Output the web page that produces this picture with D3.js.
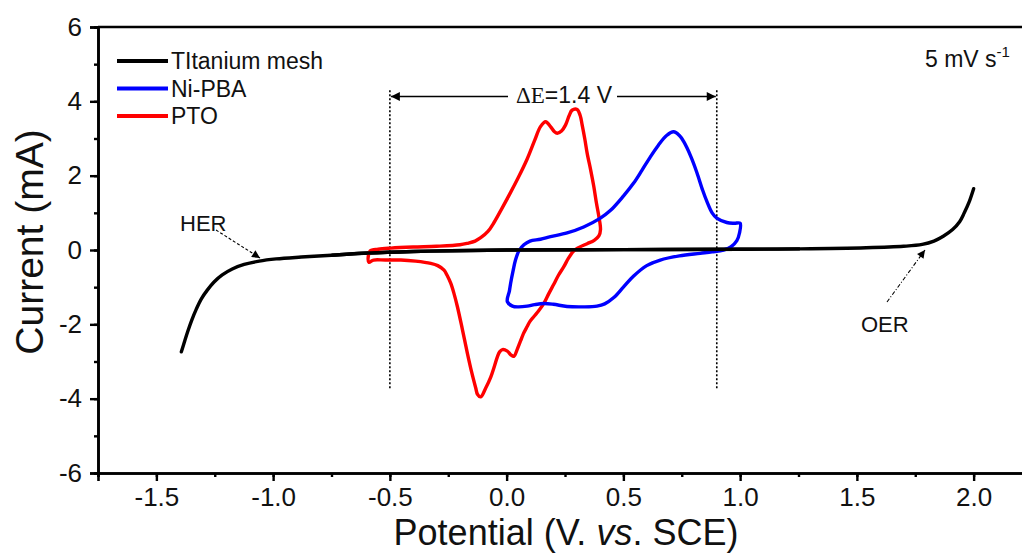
<!DOCTYPE html>
<html>
<head>
<meta charset="utf-8">
<script src="https://cdn.jsdelivr.net/npm/d3@7"></script>
<style>
  html, body { margin: 0; padding: 0; background: #fff; }
  svg text { font-family: "Liberation Sans", Arial, sans-serif; fill: #111; }
</style>
</head>
<body>
<svg id="chart" width="1022" height="554"></svg>
<script>
// Cyclic voltammograms at 5 mV/s: [potential (V vs SCE), current (mA)]
const titaniumMesh = [
  [-1.393, -2.74], [-1.380, -2.475], [-1.365, -2.18], [-1.348, -1.88], [-1.329, -1.59],
  [-1.308, -1.32], [-1.282, -1.08], [-1.253, -0.86], [-1.218, -0.67], [-1.175, -0.51],
  [-1.124, -0.39], [-1.060, -0.30], [-0.987, -0.24], [-0.880, -0.19], [-0.75, -0.14],
  [-0.59, -0.08], [-0.40, -0.04], [-0.24, -0.02],
  [0.0, 0.0], [0.5, 0.01], [1.0, 0.02], [1.256, 0.03], [1.54, 0.06], [1.70, 0.10],
  [1.78, 0.15], [1.83, 0.24], [1.87, 0.37], [1.91, 0.55], [1.94, 0.76],
  [1.96, 1.0], [1.98, 1.28], [2.0, 1.65]
];

const niPBA = [
  [0.003, -1.39], [0.012, -1.1], [0.017, -0.9], [0.028, -0.55], [0.038, -0.27],
  [0.053, -0.02], [0.074, 0.14], [0.10, 0.24], [0.145, 0.29], [0.188, 0.36],
  [0.259, 0.46], [0.33, 0.62], [0.40, 0.85], [0.444, 1.06], [0.50, 1.45],
  [0.544, 1.8], [0.58, 2.15], [0.615, 2.5], [0.65, 2.82], [0.685, 3.08],
  [0.715, 3.18], [0.74, 3.08], [0.758, 2.92], [0.79, 2.5], [0.815, 2.08],
  [0.84, 1.6], [0.858, 1.3], [0.88, 1.0], [0.90, 0.86], [0.943, 0.74],
  [0.975, 0.72], [1.0, 0.72], [0.997, 0.45], [0.986, 0.25], [0.96, 0.08],
  [0.929, 0.0], [0.88, -0.05], [0.829, -0.09], [0.74, -0.16], [0.658, -0.27],
  [0.60, -0.42], [0.544, -0.7], [0.50, -1.0], [0.459, -1.28], [0.42, -1.45],
  [0.387, -1.51], [0.33, -1.53], [0.259, -1.52], [0.20, -1.46], [0.16, -1.44],
  [0.12, -1.47], [0.088, -1.51], [0.05, -1.53], [0.025, -1.51]
];

const pto = [
  [-0.59, -0.33], [-0.592, -0.15], [-0.585, -0.03], [-0.55, 0.02], [-0.496, 0.05],
  [-0.40, 0.08], [-0.30, 0.1], [-0.20, 0.14], [-0.168, 0.18], [-0.135, 0.24],
  [-0.111, 0.33], [-0.08, 0.5], [-0.054, 0.74], [-0.02, 1.12], [0.017, 1.55],
  [0.05, 1.95], [0.088, 2.45], [0.12, 2.95], [0.145, 3.32], [0.167, 3.45],
  [0.188, 3.32], [0.205, 3.18], [0.217, 3.14], [0.235, 3.2], [0.252, 3.36],
  [0.268, 3.62], [0.28, 3.76], [0.302, 3.78], [0.315, 3.62], [0.323, 3.38],
  [0.335, 2.98], [0.345, 2.6], [0.36, 2.15], [0.373, 1.72], [0.385, 1.25],
  [0.395, 0.9], [0.402, 0.55], [0.395, 0.38], [0.375, 0.26], [0.345, 0.17],
  [0.31, 0.07], [0.288, -0.02], [0.265, -0.22], [0.245, -0.45], [0.222, -0.68],
  [0.202, -0.92], [0.18, -1.18], [0.16, -1.43], [0.138, -1.63], [0.117, -1.79],
  [0.1, -1.92], [0.088, -2.06], [0.072, -2.25], [0.06, -2.44], [0.045, -2.68],
  [0.031, -2.86], [0.018, -2.82], [0.003, -2.72], [-0.018, -2.68], [-0.03, -2.74],
  [-0.04, -2.88], [-0.055, -3.18], [-0.068, -3.42], [-0.09, -3.72], [-0.111, -3.95],
  [-0.125, -3.88], [-0.132, -3.72], [-0.15, -3.28], [-0.168, -2.78], [-0.19, -2.12],
  [-0.211, -1.52], [-0.225, -1.18], [-0.239, -0.9], [-0.255, -0.68], [-0.268, -0.54],
  [-0.295, -0.42], [-0.325, -0.36], [-0.39, -0.3], [-0.453, -0.27], [-0.52, -0.27],
  [-0.57, -0.27]
];

const seriesNames = ["TItanium mesh", "Ni-PBA", "PTO"];
const seriesColors = ["#000000", "#0000ff", "#ff0000"];

const xTicks = [-1.5, -1.0, -0.5, 0.0, 0.5, 1.0, 1.5, 2.0];
const yTicks = [-6, -4, -2, 0, 2, 4, 6];
const xDomain = [-1.75, 2.25];
const yDomain = [-6, 6];

// ΔE marker between the two redox windows
const deltaE = { from: -0.5, to: 0.9, label: "1.4 V", arrowY: 4.13, lineTop: 4.3, lineBottom: -3.75 };

const svg = d3.select("#chart");
const margin = { left: 98, top: 27, right: -10, bottom: 81 };
const W = 1022, H = 554;
const FONT = "'Liberation Sans', Arial, sans-serif";

const x = d3.scaleLinear().domain(xDomain).range([margin.left, W - margin.right]);
const y = d3.scaleLinear().domain(yDomain).range([H - margin.bottom, margin.top]);

const defs = svg.append("defs");
defs.append("marker").attr("id", "arrowhead")
  .attr("viewBox", "0 0 10 10").attr("refX", 10).attr("refY", 5)
  .attr("markerWidth", 15).attr("markerHeight", 9).attr("markerUnits", "userSpaceOnUse")
  .attr("orient", "auto")
  .append("path").attr("d", "M0,0 L10,5 L0,10 z").attr("fill", "#000");
defs.append("marker").attr("id", "smallhead")
  .attr("viewBox", "0 0 10 10").attr("refX", 10).attr("refY", 5)
  .attr("markerWidth", 13).attr("markerHeight", 8).attr("markerUnits", "userSpaceOnUse")
  .attr("orient", "auto")
  .append("path").attr("d", "M0,0 L10,5 L0,10 z").attr("fill", "#000");

// Axes
const minus = s => s.replace("−", "-");
const xAxis = d3.axisBottom(x).tickValues(xTicks).tickFormat(d => minus(d3.format(".1f")(d))).tickSize(8).tickPadding(7);
const xMinor = d3.axisBottom(x).tickValues(d3.range(-1.75, 2.26, 0.25)).tickFormat("").tickSize(4);
const yAxis = d3.axisLeft(y).tickValues(yTicks).tickFormat(d => minus(d3.format("d")(d))).tickSize(8).tickPadding(8);
const yMinor = d3.axisLeft(y).tickValues(d3.range(-6, 6.1, 1)).tickFormat("").tickSize(4);

function styleAxis(g) {
  g.select(".domain").attr("stroke", "#000").attr("stroke-width", 2.6);
  g.selectAll(".tick line").attr("stroke", "#000").attr("stroke-width", 2.4);
  g.selectAll(".tick text").attr("font-size", 26).attr("fill", "#111").attr("font-family", FONT);
}

svg.append("g").attr("transform", `translate(0,${y(-6)})`).call(xMinor).call(styleAxis);
svg.append("g").attr("transform", `translate(0,${y(-6)})`).call(xAxis).call(styleAxis);
svg.append("g").attr("transform", `translate(${x(-1.75)},0)`).call(yMinor).call(styleAxis);
svg.append("g").attr("transform", `translate(${x(-1.75)},0)`).call(yAxis).call(styleAxis);

// Top frame line
svg.append("line").attr("x1", x(-1.75)).attr("x2", x(2.25)).attr("y1", y(6)).attr("y2", y(6))
  .attr("stroke", "#000").attr("stroke-width", 2.6);

// Axis titles
svg.append("text").attr("x", 566).attr("y", 545).attr("text-anchor", "middle").attr("font-size", 36)
  .call(t => {
    t.append("tspan").text("Potential (V. ");
    t.append("tspan").attr("font-style", "italic").text("vs");
    t.append("tspan").text(". SCE)");
  });
svg.append("text").attr("transform", `translate(43,242) rotate(-90)`)
  .attr("text-anchor", "middle").attr("font-size", 39).text("Current (mA)");

// ΔE dotted guides and double arrow
[deltaE.from, deltaE.to].forEach(v => {
  svg.append("line").attr("x1", x(v)).attr("x2", x(v))
    .attr("y1", y(deltaE.lineTop)).attr("y2", y(deltaE.lineBottom))
    .attr("stroke", "#000").attr("stroke-width", 1.6).attr("stroke-dasharray", "2,2");
});
const labelX = 564;
svg.append("line").attr("x1", 508).attr("x2", x(deltaE.from) + 1)
  .attr("y1", y(deltaE.arrowY)).attr("y2", y(deltaE.arrowY))
  .attr("stroke", "#000").attr("stroke-width", 1.6).attr("marker-end", "url(#arrowhead)");
svg.append("line").attr("x1", 617).attr("x2", x(deltaE.to) - 1)
  .attr("y1", y(deltaE.arrowY)).attr("y2", y(deltaE.arrowY))
  .attr("stroke", "#000").attr("stroke-width", 1.6).attr("marker-end", "url(#arrowhead)");
svg.append("text").attr("x", labelX).attr("y", y(deltaE.arrowY) + 6).attr("text-anchor", "middle")
  .attr("font-size", 23)
  .call(t => {
    t.append("tspan").attr("font-family", "'Liberation Serif', 'Times New Roman', serif").text("ΔE");
    t.append("tspan").text("=" + deltaE.label);
  });

// Curves
const smooth = d3.line().x(d => x(d[0])).y(d => y(d[1])).curve(d3.curveCatmullRom.alpha(0.5));
const smoothLoop = d3.line().x(d => x(d[0])).y(d => y(d[1])).curve(d3.curveCatmullRomClosed.alpha(0.5));

svg.append("path").datum(titaniumMesh).attr("d", smooth)
  .attr("fill", "none").attr("stroke", seriesColors[0]).attr("stroke-width", 3.4).attr("stroke-linecap", "round");

svg.append("path").datum(pto).attr("d", smoothLoop)
  .attr("fill", "none").attr("stroke", seriesColors[2]).attr("stroke-width", 3.4).attr("stroke-linejoin", "round");

svg.append("path").datum(niPBA).attr("d", smoothLoop)
  .attr("fill", "none").attr("stroke", seriesColors[1]).attr("stroke-width", 3.4).attr("stroke-linejoin", "round");

// Black baseline drawn again on top across the loops
svg.append("path").datum(titaniumMesh.filter(d => d[0] > -0.8 && d[0] < 1.3)).attr("d", smooth)
  .attr("fill", "none").attr("stroke", seriesColors[0]).attr("stroke-width", 3.4);

// HER / OER annotations
svg.append("text").attr("x", 180).attr("y", 231).attr("font-size", 22).text("HER");
svg.append("line").attr("x1", 216).attr("y1", 230).attr("x2", 260).attr("y2", 258)
  .attr("stroke", "#000").attr("stroke-width", 1.1).attr("stroke-dasharray", "3,2")
  .attr("marker-end", "url(#smallhead)");
svg.append("text").attr("x", 861).attr("y", 332).attr("font-size", 22).text("OER");
svg.append("line").attr("x1", 887).attr("y1", 302).attr("x2", 925).attr("y2", 250)
  .attr("stroke", "#000").attr("stroke-width", 1.1).attr("stroke-dasharray", "4,2,1,2")
  .attr("marker-end", "url(#smallhead)");

// Scan rate
svg.append("text").attr("x", 925).attr("y", 67).attr("font-size", 23)
  .call(t => {
    t.append("tspan").text("5 mV s");
    t.append("tspan").attr("dy", -10).attr("font-size", 15).text("-1");
  });

// Legend
const legend = svg.append("g");
seriesNames.forEach((name, i) => {
  const ly = 61 + i * 27.5;
  legend.append("line").attr("x1", 117).attr("x2", 168).attr("y1", ly).attr("y2", ly)
    .attr("stroke", seriesColors[i]).attr("stroke-width", 4);
  legend.append("text").attr("x", 171).attr("y", ly + 8).attr("font-size", 23).text(name);
});
</script>
</body>
</html>
